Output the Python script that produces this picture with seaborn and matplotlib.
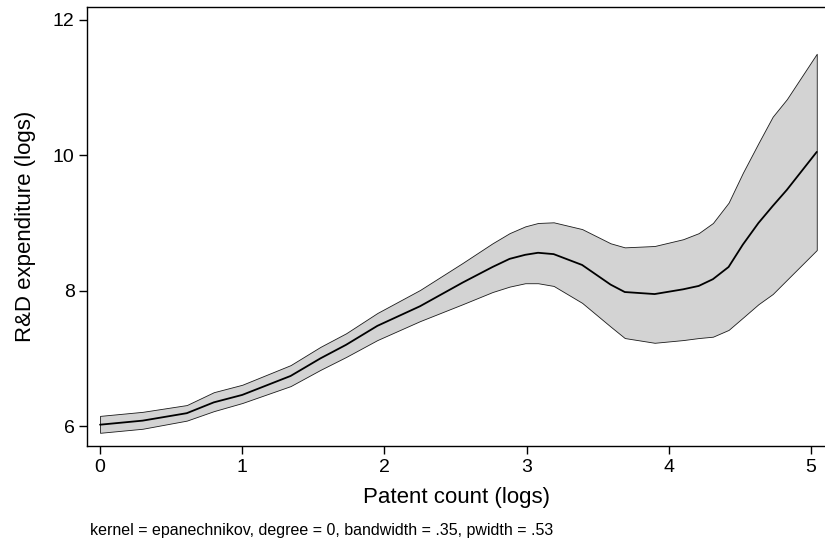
import numpy as np
import pandas as pd
import seaborn as sns
import matplotlib.pyplot as plt

# Local polynomial smooth (Stata lpoly with CI)
patents = [0.0, 0.30, 0.61, 0.80, 1.0, 1.34, 1.55, 1.73, 1.95, 2.25, 2.55, 2.76, 2.88,
           2.99, 3.08, 3.19, 3.39, 3.59, 3.69, 3.90, 4.10, 4.21, 4.31, 4.42, 4.52,
           4.63, 4.73, 4.83, 5.04]
rd_mean = [6.02, 6.08, 6.19, 6.35, 6.46, 6.74, 7.00, 7.20, 7.48, 7.77, 8.12, 8.35, 8.47,
           8.53, 8.56, 8.54, 8.38, 8.09, 7.98, 7.95, 8.02, 8.07, 8.17, 8.35, 8.68,
           9.00, 9.25, 9.49, 10.05]
ci_upper = [6.15, 6.21, 6.31, 6.50, 6.61, 6.90, 7.17, 7.37, 7.67, 8.01, 8.41, 8.70, 8.85,
            8.95, 9.00, 9.01, 8.91, 8.70, 8.64, 8.66, 8.76, 8.85, 9.00, 9.30, 9.74,
            10.18, 10.57, 10.83, 11.50]
ci_lower = [5.90, 5.96, 6.08, 6.22, 6.34, 6.59, 6.83, 7.02, 7.27, 7.55, 7.80, 7.98, 8.06,
            8.11, 8.11, 8.07, 7.82, 7.47, 7.30, 7.23, 7.27, 7.30, 7.32, 7.42, 7.60,
            7.80, 7.95, 8.16, 8.60]

df = pd.DataFrame({'x': patents, 'y': rd_mean, 'lo': ci_lower, 'hi': ci_upper})

sns.set_style('ticks')
plt.rcParams['font.family'] = ['Liberation Sans', 'DejaVu Sans']
plt.rcParams['text.color'] = 'black'
plt.rcParams['axes.labelcolor'] = 'black'
plt.rcParams['xtick.color'] = 'black'
plt.rcParams['ytick.color'] = 'black'

fig = plt.figure(figsize=(8.25, 5.44), dpi=100)
ax = fig.add_axes([0.1055, 0.180, 0.8945, 0.807])

ax.fill_between(df['x'], df['lo'], df['hi'], facecolor='#d3d3d3',
                edgecolor='#1a1a1a', linewidth=0.6, zorder=1)
sns.lineplot(data=df, x='x', y='y', color='black', linewidth=1.3, ax=ax, zorder=2)

ax.set_xlim(-0.0914, 5.098)
ax.set_ylim(5.704, 12.19)
ax.set_xticks([0, 1, 2, 3, 4, 5])
ax.set_yticks([6, 8, 10, 12])
ax.tick_params(axis='both', labelsize=14, length=6, width=1, color='black',
               labelcolor='black', pad=3)

ax.set_xlabel('Patent count (logs)', fontsize=16, va='center')
ax.set_ylabel('R&D expenditure (logs)', fontsize=16, va='center')
ax.xaxis.set_label_coords(0.5, (446 - 497) / 439)
ax.yaxis.set_label_coords((25 - 87) / 738, 0.5)

for side in ['left', 'top', 'bottom']:
    ax.spines[side].set_color('black')
    ax.spines[side].set_linewidth(1.0)
ax.spines['right'].set_visible(False)

fig.text(90 / 825, 1 - 530 / 544,
         'kernel = epanechnikov, degree = 0, bandwidth = .35, pwidth = .53',
         fontsize=11.5, va='center', ha='left', color='black')

plt.savefig('out.png', dpi=100)
